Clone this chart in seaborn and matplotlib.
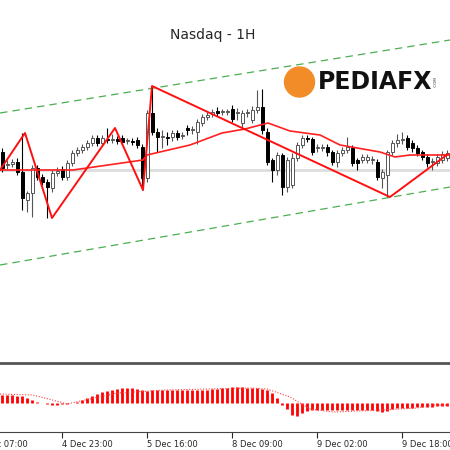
import matplotlib
matplotlib.use("Agg")
import matplotlib.pyplot as plt
from matplotlib.patches import Ellipse
import numpy as np
import pandas as pd
import seaborn as sns

sns.set_style("white")
plt.rcParams['font.family'] = ['DejaVu Sans']

# ---- price data (hourly candles, arbitrary point units) ----
opens = [298, 285, 286, 288, 278, 250, 257, 282, 273, 268,
         262, 277, 281, 273, 287, 297, 300, 303, 307, 312,
         307, 311, 310, 311, 312, 309, 309, 310, 303, 272,
         337, 318, 313, 313, 313, 317, 314, 322, 320, 318,
         327, 333, 336, 339, 338, 338, 341, 337, 327, 337,
         330, 340, 343, 318, 290, 280, 295, 263, 265, 292,
         305, 312, 311, 302, 302, 303, 298, 288, 297, 300,
         302, 290, 290, 290, 290, 288, 272, 275, 298, 307,
         310, 312, 307, 302, 298, 293, 288, 287, 290, 292]
closes = [282, 286, 288, 278, 252, 257, 282, 273, 268, 263,
          277, 279, 273, 287, 297, 300, 303, 307, 312, 307,
          312, 310, 311, 309, 308, 309, 308, 305, 272, 337,
          318, 313, 313, 312, 317, 313, 315, 320, 321, 328,
          333, 335, 338, 337, 338, 338, 331, 337, 337, 338,
          340, 343, 320, 288, 280, 295, 263, 290, 292, 305,
          312, 311, 298, 302, 302, 298, 288, 297, 300, 303,
          287, 287, 293, 293, 291, 273, 278, 298, 307, 310,
          310, 303, 302, 297, 293, 287, 288, 293, 296, 297]
highs = [302, 290, 291, 292, 317, 259, 285, 285, 276, 271,
         280, 283, 284, 290, 300, 303, 306, 310, 315, 315,
         315, 322, 316, 314, 315, 312, 312, 313, 306, 340,
         364, 322, 320, 318, 320, 320, 318, 325, 324, 331,
         336, 338, 341, 343, 341, 341, 345, 342, 340, 341,
         344, 360, 361, 322, 292, 298, 297, 293, 297, 308,
         315, 315, 313, 306, 306, 306, 300, 300, 303, 313,
         305, 292, 296, 296, 294, 291, 281, 300, 310, 316,
         318, 315, 310, 305, 300, 296, 292, 296, 299, 300]
lows = [278, 281, 283, 275, 240, 238, 233, 270, 265, 232,
        258, 274, 270, 270, 284, 294, 297, 300, 304, 304,
        304, 307, 307, 306, 305, 306, 305, 302, 260, 268,
        315, 298, 302, 305, 309, 310, 311, 315, 316, 306,
        324, 330, 333, 334, 335, 335, 328, 330, 322, 333,
        327, 337, 316, 285, 268, 275, 255, 258, 262, 289,
        302, 308, 295, 298, 299, 294, 285, 283, 294, 297,
        284, 280, 287, 287, 286, 270, 262, 253, 295, 303,
        306, 300, 298, 294, 290, 283, 280, 284, 287, 289]

# moving average (index, value)
ma_idx = [-0.4, 14.2, 28.2, 29, 37.6, 44, 48.6, 53.2, 57.6, 63.6, 67.6, 75.6, 78.6, 81.6, 88.6, 89.6]
ma_val = [280, 280, 290, 295, 305, 317, 321, 327, 319, 315, 305, 298, 293, 295, 295, 295]

# zigzag pivots
zz_idx = [-0.4, 4.6, 10, 22.6, 28.2, 30, 77.6, 89.2]
zz_val = [280, 317, 232, 322, 260, 364, 253, 296]

# channel anchors
up_idx, up_val = [-0.4, 89.6], [337, 410]
lo_idx, lo_val = [-0.4, 89.6], [185, 263]
base_level = 280

# ---- MACD-like histogram ----
hist = [8, 8, 8, 7, 7, 5, 3, 1, 0, -1,
        -2, -2, -1, -1, 0, 1, 3, 5, 7, 9,
        11, 12, 13, 14, 15, 15, 15, 14, 13, 12,
        13, 13, 13, 13, 13, 13, 13, 13, 13, 13,
        13, 13, 14, 14, 15, 15, 16, 16, 16, 15,
        15, 15, 14, 13, 10, 5, -2, -6, -12, -13,
        -10, -8, -7, -7, -7, -7, -7, -7, -7, -7,
        -7, -7, -7, -7, -7, -8, -9, -8, -6, -5,
        -5, -5, -5, -4, -4, -4, -4, -3, -3, -3]
sig_idx = [-0.4, 6.2, 11.6, 13, 23, 33, 49.6, 53, 57.6, 61.6, 66.2, 76.2, 83, 86.2, 89.6]
sig_val = [9, 8, 1, -1, 10, 13, 15, 14, 6, -6, -9, -7, -5, -2, -2]

tick_pos = [12, 29, 46, 63, 80]
tick_lab = ["4 Dec 23:00", "5 Dec 16:00", "8 Dec 09:00", "9 Dec 02:00", "9 Dec 18:00"]
first_pos, first_lab = -5, "4 Dec 07:00"   # tick left of the visible window

fig = plt.figure(figsize=(4.5, 4.5), dpi=100)
ax = fig.add_axes([0, 88 / 450, 1, 362 / 450])
ax2 = fig.add_axes([0, 18 / 450, 1, 69 / 450])

idx = np.arange(len(opens))
ax.axhline(base_level, color="#dddddd", lw=2, zorder=0)
ax.plot(up_idx, up_val, color="#4caf50", lw=0.9, ls=(0, (6, 4)))
ax.plot(lo_idx, lo_val, color="#4caf50", lw=0.9, ls=(0, (6, 4)))

for i in idx:
    o, c = opens[i], closes[i]
    up = c >= o
    ax.vlines(i, lows[i], highs[i], color="#555555" if up else "black", lw=0.8, zorder=2)
    ax.bar(i, max(abs(c - o), 1), bottom=min(o, c), width=0.6,
           color="white" if up else "black", edgecolor="#555555" if up else "black",
           lw=0.7, zorder=3)

sns.lineplot(x=ma_idx, y=ma_val, ax=ax, color="#ff2020", lw=1.2, zorder=4)
sns.lineplot(x=zz_idx, y=zz_val, ax=ax, color="#ff1010", lw=1.4, zorder=5)

ax.set_xlim(-0.4, 89.6)
ax.set_ylim(88, 450)
ax.axis("off")
ax.text(42.2, 415, "Nasdaq - 1H", ha="center", va="center", fontsize=10)

# logo
ax.add_patch(Ellipse((59.5, 368), 6, 30, color="#f28c28", zorder=6))
fig.text(318 / 450, 1 - 82 / 450, "PEDIAFX", fontsize=17, fontweight="bold",
         va="center", ha="left", color="#111111")
fig.text(434 / 450, 1 - 82 / 450, ".COM", fontsize=3, rotation=90, va="center", color="#333333")

# bottom indicator
ax2.vlines(idx, 0, hist, color="#ff0000", lw=2, zorder=3)
sns.lineplot(x=sig_idx, y=sig_val, ax=ax2, color="#ff4040", lw=0.8, ls=(0, (1, 1.5)), zorder=4)
ax2.set_yticks([])
for s in ["left", "right"]:
    ax2.spines[s].set_visible(False)
ax2.spines["top"].set_color("#555555")
ax2.spines["top"].set_linewidth(2)
ax2.spines["bottom"].set_color("#444444")
ax2.set_xticks(tick_pos)
ax2.set_xticklabels(tick_lab, fontsize=6, ha="left")
ax2.tick_params(axis="x", length=4, direction="out", pad=2, bottom=True)
ax2.set_xlim(-0.4, 89.6)
ax2.set_ylim(-29, 40)
ax2.annotate(first_lab, xy=(first_pos, 0), xycoords=("data", "axes fraction"),
             xytext=(0, -6), textcoords="offset points", ha="left", va="top",
             fontsize=6, annotation_clip=False)

fig.savefig("out.png", dpi=100)
